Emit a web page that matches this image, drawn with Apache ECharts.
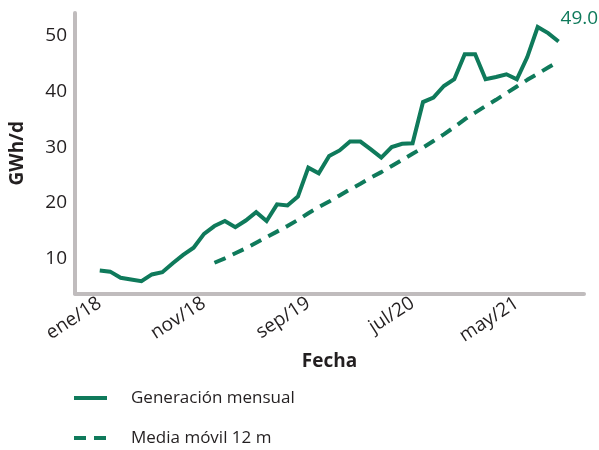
<!DOCTYPE html>
<html>
<head>
<meta charset="utf-8">
<script src="https://cdn.jsdelivr.net/npm/echarts@6/dist/echarts.min.js"></script>
<style>html,body{margin:0;padding:0;background:#fff;}#c{width:599px;height:450px;}</style>
</head>
<body>
<div id="c"></div>
<script>
const months = ['ene/18','feb/18','mar/18','abr/18','may/18','jun/18','jul/18','ago/18','sep/18','oct/18','nov/18','dic/18',
  'ene/19','feb/19','mar/19','abr/19','may/19','jun/19','jul/19','ago/19','sep/19','oct/19','nov/19','dic/19',
  'ene/20','feb/20','mar/20','abr/20','may/20','jun/20','jul/20','ago/20','sep/20','oct/20','nov/20','dic/20',
  'ene/21','feb/21','mar/21','abr/21','may/21','jun/21','jul/21','ago/21','sep/21'];
const xTickIndex = [0, 10, 20, 30, 40];
const yTicks = [10, 20, 30, 40, 50];
const generacion = [7.8, 7.6, 6.5, 6.2, 5.9, 7.1, 7.5, 9.1, 10.6, 11.9, 14.4, 15.8, 16.7, 15.6, 16.8, 18.3, 16.7, 19.7, 19.5, 21.1,
  26.3, 25.3, 28.4, 29.4, 31.0, 31.0, 29.6, 28.1, 30.0, 30.6, 30.7, 38.1, 38.9, 41.0, 42.2, 46.7, 46.7, 42.2, 42.6, 43.1,
  42.2, 46.2, 51.6, 50.5, 49.0];
const mediaStart = 11;
const media = [9.2, 10.0, 10.9, 11.8, 12.8, 13.8, 14.8, 15.8, 16.9, 18.1, 19.2, 20.2, 21.3, 22.4, 23.4, 24.5, 25.5, 26.6, 27.7, 28.8,
  29.9, 31.1, 32.3, 33.6, 35.0, 36.2, 37.4, 38.5, 39.7, 40.9, 42.1, 43.2, 44.3, 45.4];

const GREEN = '#0f7a5b';
const TEXT = '#231f20';
const AXIS = '#c0bcbd';
const FONT = 'Open Sans';

const genData = generacion.map((v, i) => [i, v]);
const maData = media.map((v, i) => [i + mediaStart, v]);

const chart = echarts.init(document.getElementById('c'), null, {renderer: 'canvas'});
chart.setOption({
  animation: false,
  textStyle: {fontFamily: FONT},
  grid: {left: 70, right: 15, top: 13, bottom: 156.5, containLabel: false},
  xAxis: {
    type: 'value', min: -2.374, max: 46.44,
    name: 'Fecha', nameLocation: 'middle', nameGap: 46,
    nameTextStyle: {fontFamily: FONT, fontWeight: 'bold', fontSize: 19, color: TEXT},
    axisLine: {show: true, onZero: false, lineStyle: {color: AXIS, width: 4}},
    axisTick: {show: false},
    splitLine: {show: false},
    axisLabel: {
      customValues: xTickIndex, rotate: 33, margin: 8,
      formatter: v => months[Math.round(v)] || '',
      fontSize: 19, color: TEXT, fontFamily: FONT
    }
  },
  yAxis: {
    type: 'value', min: 3.67, max: 54.12,
    name: 'GWh/d', nameLocation: 'middle', nameGap: 48,
    nameTextStyle: {fontFamily: FONT, fontWeight: 'bold', fontSize: 19, color: TEXT},
    axisLine: {show: true, onZero: false, lineStyle: {color: AXIS, width: 4}},
    axisTick: {show: false},
    splitLine: {show: false},
    axisLabel: {customValues: yTicks, margin: 8, fontSize: 19, color: TEXT, fontFamily: FONT}
  },
  legend: {
    orient: 'vertical', left: 72, top: 387, padding: 0,
    itemWidth: 33, itemHeight: 22, itemGap: 18,
    itemStyle: {opacity: 0},
    lineStyle: {width: 4},
    textStyle: {fontSize: 17, lineHeight: 22, color: TEXT, fontFamily: FONT, padding: [0, 0, 0, 19]},
    data: ['Generación mensual', 'Media móvil 12 m']
  },
  series: [
    {
      name: 'Generación mensual', type: 'line', data: genData, showSymbol: false, symbol: 'none',
      lineStyle: {color: GREEN, width: 4, join: 'miter'}, itemStyle: {color: GREEN},
      endLabel: {
        show: true, offset: [-6, -23],
        formatter: p => p.value[1].toFixed(1),
        color: GREEN, fontSize: 19, fontFamily: FONT
      }
    },
    {
      name: 'Media móvil 12 m', type: 'line', data: maData, showSymbol: false, symbol: 'none',
      lineStyle: {color: GREEN, width: 4, type: [12, 8]}, itemStyle: {color: GREEN}
    }
  ]
});
</script>
</body>
</html>
